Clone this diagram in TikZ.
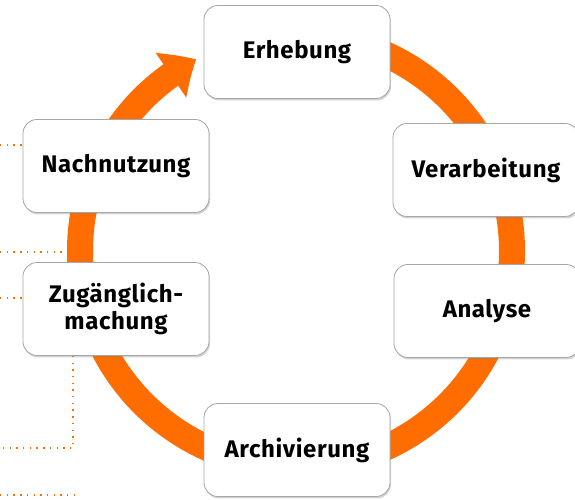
\documentclass[tikz,border=0pt]{standalone}
\usepackage{fontspec}
\setmainfont{Fira Sans}[LetterSpace=2.5]
\usetikzlibrary{arrows.meta,bending,shadows}
\definecolor{ringorange}{RGB}{255,108,0}
\begin{document}
\begin{tikzpicture}[x=1pt,y=1pt]
        \tikzstyle{block} = [rectangle, rounded corners=14pt, text=black, text centered, align=center, draw=black!35, fill=white, line width=.8pt, font=\fontsize{24}{27}\selectfont\bfseries, minimum width=186pt, minimum height=93pt, drop shadow={shadow xshift=1pt,shadow yshift=-2pt,opacity=.35}]
        \tikzstyle{ring} = [-{Triangle[length=30pt,width=52pt,bend]}, draw=ringorange, line width=26pt]
        \tikzstyle{dots} = [draw=ringorange, line width=1.3pt, dash pattern=on 1.4pt off 5.3pt]
        \useasboundingbox (0,0) rectangle (575,500);
        % the cycle
        \coordinate (mid) at (296,249);
        \draw[ring] (mid) ++(90:216) arc[start angle=90, end angle=-242.5, radius=216];
        % dotted leads on the left
        \coordinate (lead1) at (0,355);
        \coordinate (lead2) at (0,248);
        \coordinate (lead2e) at (62,248);
        \coordinate (lead3) at (0,202);
        \coordinate (turn) at (73,52);
        \coordinate (lead4) at (0,52);
        \coordinate (lead5) at (0,5);
        \coordinate (lead5e) at (75,5);
        \node[block] (erheb) at (297,448) {Erhebung};
        \node[block] (verarb) at (486,330) {Verarbeitung};
        \node[block] (analy) at (487,189) {Analyse};
        \node[block] (archiv) at (297,50) {Archivierung};
        \node[block] (zugang) at (116,191) {Zugänglich-\\machung};
        \node[block] (nachn) at (116,334) {Nachnutzung};
        \draw[dots] (lead1) -- (lead1 -| nachn.west);
        \draw[dots] (lead2) -- (lead2e);
        \draw[dots] (lead3) -- (lead3 -| zugang.west);
        \draw[dots] (zugang.south -| turn) -- (turn) -- (lead4);
        \draw[dots] (lead5) -- (lead5e);
\end{tikzpicture}
\end{document}
